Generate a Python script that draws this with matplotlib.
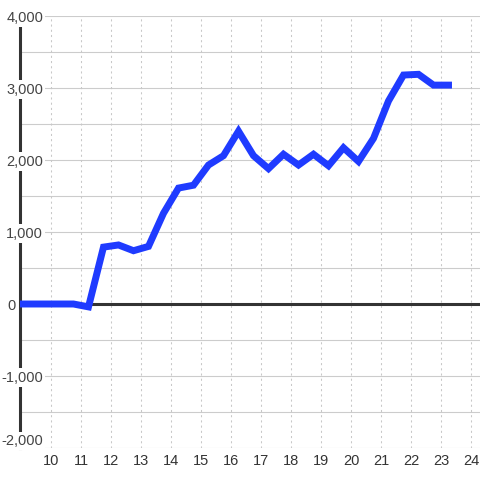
import matplotlib
matplotlib.use("Agg")
import matplotlib.pyplot as plt
from matplotlib.transforms import ScaledTranslation

# ---- data ----
hours = [8.75, 9.25, 9.75, 10.25, 10.75, 11.25, 11.75, 12.25, 12.75, 13.25,
         13.75, 14.25, 14.75, 15.25, 15.75, 16.25, 16.75, 17.25, 17.75, 18.25,
         18.75, 19.25, 19.75, 20.25, 20.75, 21.25, 21.75, 22.25, 22.75, 23.25]
values = [0, 0, 0, 0, 0, -40, 790, 820, 740, 800,
          1260, 1610, 1650, 1930, 2060, 2400, 2060, 1880, 2080, 1930,
          2080, 1920, 2170, 1980, 2300, 2820, 3180, 3190, 3040, 3040]

x_ticks = [10, 11, 12, 13, 14, 15, 16, 17, 18, 19, 20, 21, 22, 23, 24]
x_tick_labels = [str(v) for v in x_ticks]
y_ticks = [-2000, -1000, 0, 1000, 2000, 3000, 4000]
y_tick_labels = ['-2,000', '-1,000', '0', '1,000', '2,000', '3,000', '4,000']
y_grid = [-2000, -1500, -1000, -500, 0, 500, 1000, 1500, 2000, 2500, 3000, 3500, 4000]

plt.rcParams['font.family'] = ['Liberation Sans', 'DejaVu Sans']

fig = plt.figure(figsize=(4.8, 4.8), dpi=100)
ax = fig.add_axes([20/480, 32/480, 460/480, 432/480])
ax.set_xlim(8.967, 24.3)
ax.set_ylim(-2000, 4000)

for s in ax.spines.values():
    s.set_visible(False)

# horizontal grid
ax.hlines(y_grid, 8.967, 24.3, colors='#cccccc', linewidth=0.8, zorder=0.5)
# vertical dashed grid
ax.set_xticks(x_ticks)
ax.set_xticklabels(x_tick_labels)
ax.xaxis.grid(True, color='#c8c8c8', linestyle=(0, (2, 3)), linewidth=0.75)
ax.set_axisbelow(True)

# y axis line
ax.axvline(8.967, color='#333333', linewidth=2.2, zorder=1, clip_on=False)
# zero line
ax.axhline(0, color='#333333', linewidth=2.2, zorder=1.2)

ax.plot(hours, values, color='#1f3bff', linewidth=5, zorder=4,
        solid_joinstyle='miter')

ax.set_yticks(y_ticks)
ax.set_yticklabels(y_tick_labels)
ax.yaxis.set_zorder(3)
ax.tick_params(axis='y', length=0, pad=-16.6, labelsize=10.5, labelcolor='#444444')
ax.tick_params(axis='x', length=0, pad=4, labelsize=10.5, labelcolor='#333333')
for lbl in ax.get_yticklabels():
    lbl.set_bbox(dict(facecolor='white', edgecolor='none', pad=1.5))
ylabels = ax.get_yticklabels()
ylabels[0].set_verticalalignment('bottom')
zero_lbl = ylabels[2]
zero_lbl.set_transform(zero_lbl.get_transform() + ScaledTranslation(-0.27, 0, fig.dpi_scale_trans))

fig.savefig('out.png', dpi=100)
